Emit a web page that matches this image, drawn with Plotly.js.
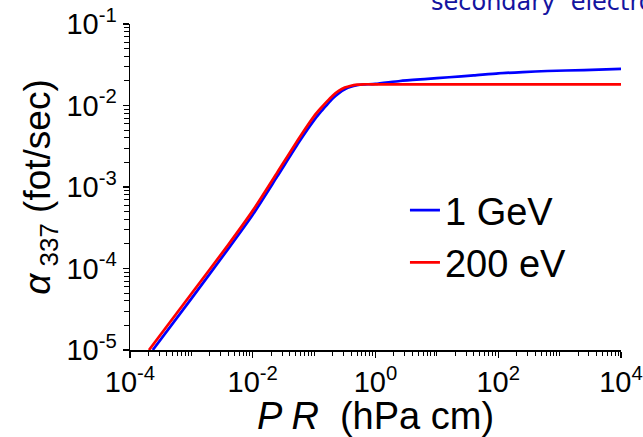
<!DOCTYPE html>
<html>
<head>
<meta charset="utf-8">
<script src="https://cdn.plot.ly/plotly-3.0.1.min.js"></script>
<style>html,body{margin:0;padding:0;background:#fff;}#chart{width:643px;height:437px;}</style>
</head>
<body>
<div id="chart"></div>
<script>
// Series: 1 GeV (blue)
const gevX = [2.35e-4, 1e-3, 3.98e-3, 1e-2, 2.51e-2, 5.89e-2, 0.1, 0.126, 0.158, 0.2, 0.251, 0.316, 0.398, 0.501, 0.631, 1, 2.51, 6.31, 15.8, 39.8, 100, 251, 631, 2510, 10000];
const gevY = [1e-5, 4.27e-5, 1.74e-4, 4.57e-4, 1.35e-3, 3.72e-3, 6.61e-3, 8.22e-3, 1.0e-2, 1.22e-2, 1.41e-2, 1.58e-2, 1.70e-2, 1.77e-2, 1.81e-2, 1.84e-2, 2.0e-2, 2.11e-2, 2.22e-2, 2.34e-2, 2.48e-2, 2.57e-2, 2.65e-2, 2.72e-2, 2.81e-2];
// Series: 200 eV (red)
const evX = [2.04e-4, 1e-3, 3.98e-3, 1e-2, 2.51e-2, 5.89e-2, 0.1, 0.126, 0.158, 0.2, 0.251, 0.316, 0.398, 0.501, 0.631, 1, 10, 100, 1000, 10000];
const evY = [1e-5, 4.90e-5, 1.95e-4, 5.13e-4, 1.51e-3, 4.14e-3, 7.41e-3, 9.12e-3, 1.10e-2, 1.32e-2, 1.51e-2, 1.66e-2, 1.75e-2, 1.80e-2, 1.82e-2, 1.82e-2, 1.82e-2, 1.82e-2, 1.82e-2, 1.82e-2];
const seriesNames = ['1 GeV', '200 eV'];
// Tick labels
const xTickVals = [1e-4, 1e-2, 1, 1e2, 1e4];
const xTickText = ['10<sup>-4</sup>', '10<sup>-2</sup>', '10<sup>0</sup>', '10<sup>2</sup>', '10<sup>4</sup>'];
const yTickVals = [1e-5, 1e-4, 1e-3, 1e-2, 1e-1];
const yTickText = ['10<sup>-5</sup>', '10<sup>-4</sup>', '10<sup>-3</sup>', '10<sup>-2</sup>', '10<sup>-1</sup>'];
const topText = 'secondary&nbsp; electrons';

const traces = [
  {x: gevX, y: gevY, name: seriesNames[0], mode: 'lines', line: {color: '#0000ff', width: 2.7, shape: 'spline', smoothing: 0.6}},
  {x: evX, y: evY, name: seriesNames[1], mode: 'lines', line: {color: '#ff0000', width: 2.7, shape: 'spline', smoothing: 0.6}}
];

const sans = 'Liberation Sans, Arial, sans-serif';
const tickFont = {family: sans, size: 29, color: '#000'};
const layout = {
  width: 643, height: 437,
  margin: {l: 130, r: 22, t: 24, b: 87},
  paper_bgcolor: '#fff', plot_bgcolor: '#fff',
  showlegend: true,
  legend: {x: 0.56, y: 0.525, xanchor: 'left', yanchor: 'top', bgcolor: 'rgba(0,0,0,0)',
           font: {family: sans, size: 38, color: '#000'},
           itemwidth: 30, tracegroupgap: 0},
  xaxis: {
    type: 'log', range: [-4, 4], showgrid: false, zeroline: false,
    showline: true, linecolor: '#000', linewidth: 1.5, mirror: false,
    tickmode: 'array', tickvals: xTickVals, ticktext: xTickText,
    ticks: 'outside', ticklen: 6, tickwidth: 1.2, tickcolor: '#000',
    minor: {dtick: 'D1', ticks: 'outside', ticklen: 4, tickwidth: 1, tickcolor: '#000', showgrid: false},
    tickfont: tickFont, ticklabelstandoff: 0, ticklabeloverflow: 'allow',
    title: {text: '<i>P R</i>&nbsp;&nbsp;(hPa cm)', font: {family: sans, size: 38, color: '#000'}, standoff: 5}
  },
  yaxis: {
    type: 'log', range: [-5, -1], showgrid: false, zeroline: false,
    showline: true, linecolor: '#000', linewidth: 1.5, mirror: false,
    tickmode: 'array', tickvals: yTickVals, ticktext: yTickText,
    ticks: 'outside', ticklen: 6, tickwidth: 1.2, tickcolor: '#000',
    minor: {dtick: 'D1', ticks: 'outside', ticklen: 5, tickwidth: 1, tickcolor: '#000', showgrid: false},
    tickfont: tickFont, ticklabelstandoff: 0, ticklabeloverflow: 'allow',
    title: {text: '<i>α</i><sub> 337</sub> (fot/sec)', font: {family: sans, size: 37, color: '#000'}, standoff: 4}
  },
  annotations: [{
    text: topText, xref: 'paper', yref: 'paper', x: 0.609, y: 1.069,
    xanchor: 'left', yanchor: 'middle', showarrow: false,
    font: {family: 'DejaVu Sans, Verdana, sans-serif', size: 24, color: '#1414a0'}
  }]
};

Plotly.newPlot('chart', traces, layout, {staticPlot: true, displayModeBar: false});
</script>
</body>
</html>
